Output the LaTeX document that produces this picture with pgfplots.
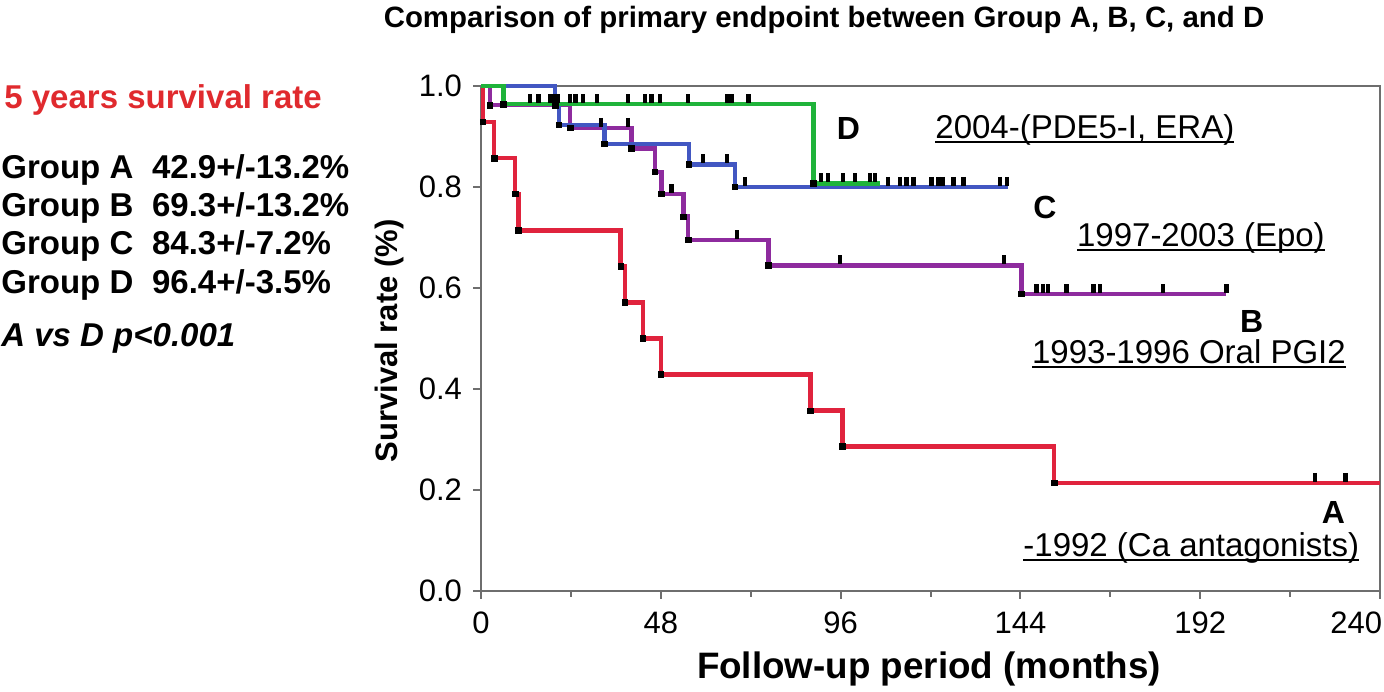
\documentclass[border=0pt]{standalone}
\usepackage{pgfplots}
\pgfplotsset{compat=1.18}
\usepackage{fontspec}
\setmainfont{Liberation Sans}
\definecolor{cA}{HTML}{E0233D}
\definecolor{cB}{HTML}{8E2B9E}
\definecolor{cC}{HTML}{4257C2}
\definecolor{cD}{HTML}{1FB33A}
\definecolor{tred}{HTML}{E02A2E}
\definecolor{axgray}{HTML}{6E6E6E}
\newcommand{\ul}[1]{\setbox0\hbox{#1}\leavevmode\rlap{\rule[-2.2bp]{\wd0}{0.9bp}}\box0}
\pgfplotstableread{
t s
0 1
0.5 0.929
3.5 0.857
9.1 0.786
10 0.714
37.3 0.643
38.4 0.571
43.2 0.5
48 0.429
88 0.357
96.5 0.286
153 0.214
240 0.214
}\curveA
\pgfplotstableread{
t s
0 1
2.4 0.962
23.8 0.917
40.2 0.876
46.4 0.83
48.2 0.786
54 0.741
55.3 0.695
76.7 0.645
144.3 0.588
199 0.588
}\curveB
\pgfplotstableread{
t s
0 1
19.8 0.962
20.8 0.923
33 0.885
55.5 0.845
67.8 0.80
140.8 0.80
}\curveC
\pgfplotstableread{
t s
0 1
6 0.964
88.7 0.807
106.5 0.807
}\curveD
\pgfplotstableread{
t s
0.5 0.929
3.5 0.857
9.1 0.786
10 0.714
37.3 0.643
38.4 0.571
43.2 0.5
48 0.429
88 0.357
96.5 0.286
153 0.214
2.4 0.962
23.8 0.917
40.2 0.876
46.4 0.83
48.2 0.786
54 0.741
55.3 0.695
76.7 0.645
144.3 0.588
19.8 0.962
20.8 0.923
33 0.885
55.5 0.845
67.8 0.80
6 0.964
88.7 0.807
}\events
\pgfplotstableread{
t s
222.6 0.214
230.8 0.214
32 0.917
39.3 0.917
50.9 0.786
68.3 0.695
95.8 0.645
139.6 0.645
148.3 0.588
150.1 0.588
151.4 0.588
156.3 0.588
163.5 0.588
165.3 0.588
182.1 0.588
199 0.588
59.3 0.845
65.6 0.845
70.5 0.80
108.7 0.80
111.9 0.80
113.6 0.80
115.4 0.80
120.3 0.80
122.1 0.80
123.4 0.80
126.1 0.80
128.8 0.80
138.6 0.80
140.4 0.80
13.1 0.964
15.3 0.964
18.4 0.964
19.6 0.964
20.5 0.964
23.7 0.964
25.2 0.964
27.2 0.964
30.9 0.964
39.3 0.964
43.8 0.964
45.5 0.964
47.8 0.964
55.3 0.964
65.6 0.964
66.9 0.964
71.4 0.964
90.7 0.807
92.7 0.807
96.7 0.807
99.8 0.807
103.8 0.807
105.1 0.807
}\censors
\begin{document}
\begin{tikzpicture}[x=0.5bp,y=0.5bp]
\useasboundingbox (0,0) rectangle (1384,692);
\begin{axis}[at={(240.5bp,50.5bp)}, anchor=south west, scale only axis,
  width=449.5bp, height=252.5bp,
  xmin=0, xmax=240, ymin=0, ymax=1,
  xtick={0,48,96,144,192,240}, minor xtick={24,72,120,168,216},
  xticklabels={0,48,96,144,192,\makebox[0pt][r]{240\hspace{-1bp}}},
  ytick={0,0.2,0.4,0.6,0.8,1.0},
  yticklabel style={xshift=-2bp, /pgf/number format/fixed, /pgf/number format/fixed zerofill, /pgf/number format/precision=1},
  /pgf/number format/assume math mode=true,
  tick align=outside, tick pos=left,
  major tick length=4bp, minor tick length=3bp,
  axis line style={draw=axgray, line width=1bp},
  every tick/.style={draw=axgray, line width=1bp},
  every minor tick/.style={draw=axgray, line width=1bp},
  tick label style={font=\fontsize{15.5bp}{17bp}\selectfont, text=black},
  xticklabel style={yshift=-3bp},
  clip=false]
\addplot[const plot, cA, line width=2.3bp] table[x=t,y=s] {\curveA};
\addplot[const plot, cB, line width=2.3bp] table[x=t,y=s] {\curveB};
\addplot[const plot, cC, line width=2.3bp] table[x=t,y=s] {\curveC};
\addplot[const plot, cD, line width=2.3bp] table[x=t,y=s] {\curveD};
\addplot[only marks, mark=square*, mark size=1.4bp, mark options={black, draw=black, fill=black}] table[x=t,y=s] {\events};
\addplot[only marks, mark=|, mark size=2.2bp, mark options={black, line width=2.2bp, yshift=2.8bp}] table[x=t,y=s] {\censors};
\end{axis}
% title
\node[font=\bfseries\fontsize{14.7bp}{16bp}\selectfont] at (824,672) {Comparison of primary endpoint between Group A, B, C, and D};
% axis labels
\node[font=\bfseries\fontsize{18.4bp}{20bp}\selectfont] at (929,23) {Follow-up period (months)};
\node[font=\bfseries\fontsize{15.5bp}{17bp}\selectfont, rotate=90] at (389,351) {Survival rate (\%)};
% left text
\begin{scope}[every node/.style={anchor=base west, inner sep=0pt, font=\bfseries\fontsize{16.5bp}{18bp}\selectfont}]
\node[text=tred] at (4,583.7) {5 years survival rate};
\node at (1,513.7) {Group A};
\node at (151.7,513.7) {42.9+/-13.2\%};
\node at (1,475.3) {Group B};
\node at (151.7,475.3) {69.3+/-13.2\%};
\node at (1,437) {Group C};
\node at (151.7,437) {84.3+/-7.2\%};
\node at (1,398.7) {Group D};
\node at (151.7,398.7) {96.4+/-3.5\%};
\node[font=\bfseries\itshape\fontsize{16.5bp}{18bp}\selectfont] at (1,345.3) {A vs D p<0.001};
\end{scope}
% group letters
\begin{scope}[every node/.style={font=\bfseries\fontsize{16bp}{18bp}\selectfont}]
\node at (848.3,563.7) {D};
\node at (1045,484.5) {C};
\node at (1251.7,370.3) {B};
\node at (1333.3,180) {A};
\end{scope}
\begin{scope}[every node/.style={anchor=base west, inner sep=0pt, font=\fontsize{16.5bp}{18bp}\selectfont}]
\node at (935,553.7) {\ul{2004-(PDE5-I, ERA)}};
\node at (1076.7,445.3) {\ul{1997-2003 (Epo)}};
\node at (1031.7,328.7) {\ul{1993-1996 Oral PGI2}};
\node at (1023,135.3) {\ul{-1992 (Ca antagonists)}};
\end{scope}
\end{tikzpicture}
\end{document}
